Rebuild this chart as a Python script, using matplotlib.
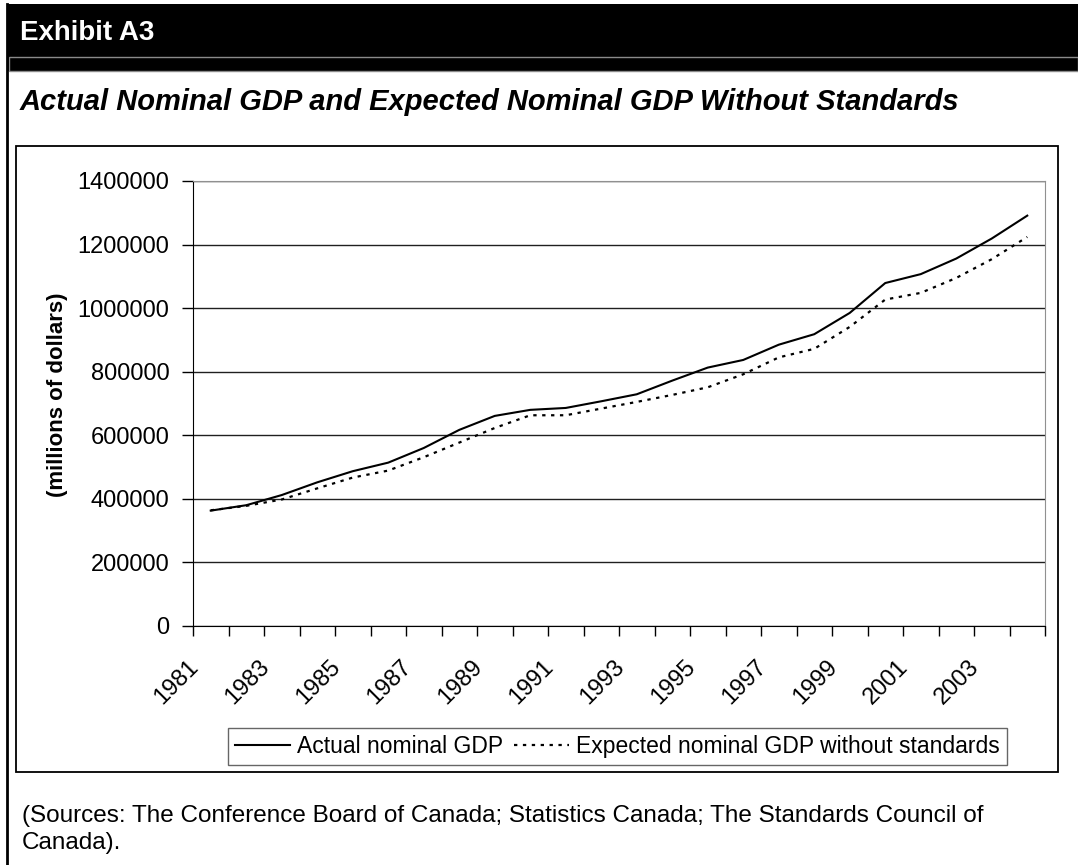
import matplotlib
matplotlib.use('Agg')
import matplotlib.pyplot as plt
from matplotlib.patches import Rectangle
from matplotlib.lines import Line2D
from matplotlib.transforms import ScaledTranslation

plt.rcParams['font.family'] = ['Liberation Sans', 'DejaVu Sans']

# data (millions of dollars)
years = list(range(1981, 2005))
actual_gdp = [363000, 380000, 412000, 452000, 487000, 514000, 560000, 617000,
              661000, 680000, 686000, 707000, 729000, 772000, 813000, 837000,
              885000, 918000, 985000, 1079000, 1107000, 1156000, 1219000, 1291000]
expected_gdp = [364000, 378000, 398000, 433000, 467000, 489000, 531000, 577000,
                623000, 663000, 663000, 684000, 705000, 727000, 751000, 792000,
                845000, 872000, 941000, 1027000, 1048000, 1095000, 1154000, 1224000]
y_ticks = [0, 200000, 400000, 600000, 800000, 1000000, 1200000, 1400000]

W, H = 1078, 865
fig = plt.figure(figsize=(W / 100, H / 100), dpi=100)

def fx(x):
    return x / W

def fy(y):
    return 1 - y / H

# header bar
fig.patches.append(Rectangle((fx(7), fy(71)), (W - 7) / W, 67 / H, transform=fig.transFigure,
                             facecolor='black', edgecolor='none'))
fig.patches.append(Rectangle((fx(9), fy(71)), (W - 9) / W, 14 / H, transform=fig.transFigure,
                             fill=False, edgecolor='#8a8a8a', lw=1))
fig.lines.append(Line2D([fx(7), fx(7)], [fy(4), 0], transform=fig.transFigure, color='black', lw=2))
# chart box
fig.patches.append(Rectangle((fx(16), fy(772)), (1058 - 16) / W, (772 - 146) / H,
                             transform=fig.transFigure, fill=False, edgecolor='black', lw=1.3))

fig.text(fx(20), fy(40), 'Exhibit A3', color='white', fontsize=20, fontweight='bold', va='baseline')
fig.text(fx(20), fy(110), 'Actual Nominal GDP and Expected Nominal GDP Without Standards',
         fontsize=21, fontweight='bold', style='italic', va='baseline')

ax = fig.add_axes([fx(193), fy(626), (1045 - 193) / W, (626 - 181) / H])
x = list(range(len(years)))
ax.plot(x, actual_gdp, color='black', lw=1.5, label='Actual nominal GDP')
ax.plot(x, expected_gdp, color='black', lw=1.6, linestyle=(0, (1.5, 2.5)),
        label='Expected nominal GDP without standards')

ax.set_xlim(-0.5, len(years) - 0.5)
ax.set_ylim(0, 1400000)
ax.set_yticks(y_ticks)
ax.set_yticklabels([str(v) for v in y_ticks])
ax.yaxis.grid(True, color='#202020', lw=1)
ax.set_axisbelow(True)
for s in ['top', 'right']:
    ax.spines[s].set_color('#909090')
for s in ['left', 'bottom']:
    ax.spines[s].set_color('black')
ax.tick_params(axis='y', length=8, width=1, pad=9, labelsize=17)

ax.set_xticks([i - 0.5 for i in range(len(years) + 1)])
ax.set_xticklabels([])
ax.set_xticks(x[::2], minor=True)
ax.set_xticklabels([str(y) for y in years[::2]], minor=True, rotation=45,
                   ha='right', va='center', rotation_mode='anchor', fontsize=17)
ax.tick_params(axis='x', which='major', length=7, width=1)
ax.tick_params(axis='x', which='minor', length=0, pad=27)
for lab in ax.get_xticklabels(minor=True):
    lab.set_transform(lab.get_transform() + ScaledTranslation(-16 / 100, 0, fig.dpi_scale_trans))

ax.set_ylabel('(millions of dollars)', fontsize=16, fontweight='bold')
ax.yaxis.set_label_coords(-0.147, 0.52)

leg = fig.legend(loc='center', bbox_to_anchor=(fx(617.5), fy(746.5)), ncol=2, fontsize=16.5,
                 frameon=True, fancybox=False, edgecolor='#404040', handlelength=2.4,
                 handletextpad=0.3, columnspacing=0.5, borderpad=0.3)
leg.get_frame().set_linewidth(1)

fig.text(fx(22), fy(822), '(Sources: The Conference Board of Canada; Statistics Canada; The Standards Council of',
         fontsize=17.5, va='baseline')
fig.text(fx(22), fy(849), 'Canada).', fontsize=17.5, va='baseline')

fig.savefig('out.png', dpi=100, facecolor='white')
